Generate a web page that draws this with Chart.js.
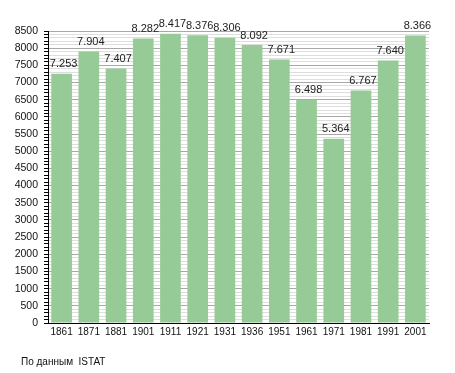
<!DOCTYPE html>
<html lang="ru">
<head>
<meta charset="UTF-8">
<title>Население</title>
<style>
    html, body { margin: 0; padding: 0; background: #ffffff; }
    #wrap { width: 455px; height: 373px; position: relative; }
</style>
</head>
<body>
<div id="wrap"><canvas id="chart" width="455" height="373"></canvas></div>
<script src="https://cdn.jsdelivr.net/npm/chart.js"></script>
<script>
    // данные переписей ISTAT
    const years = ['1861', '1871', '1881', '1901', '1911', '1921', '1931', '1936', '1951', '1961', '1971', '1981', '1991', '2001'];
    const population = [7253, 7904, 7407, 8282, 8417, 8376, 8306, 8092, 7671, 6498, 5364, 6767, 7640, 8366];
    const sourceNote = 'По данным  ISTAT';

    const fontName = '"Liberation Sans", Arial, sans-serif';

    function fmt(v) {
        // 7253 -> 7.253
        return String(v).replace(/\B(?=(\d{3})+(?!\d))/g, '.');
    }

    // подписи над столбцами
    const valueLabels = {
        id: 'valueLabels',
        afterDatasetsDraw(chart) {
            const ctx = chart.ctx;
            const meta = chart.getDatasetMeta(0);
            ctx.save();
            ctx.font = '11px ' + fontName;
            ctx.fillStyle = '#222';
            ctx.textAlign = 'center';
            ctx.textBaseline = 'bottom';
            meta.data.forEach((bar, i) => {
                ctx.fillText(fmt(population[i]), bar.x + 2, bar.y - 4);
            });
            ctx.restore();
        }
    };

    // подпись источника внизу
    const footerNote = {
        id: 'footerNote',
        afterDraw(chart) {
            const ctx = chart.ctx;
            ctx.save();
            ctx.font = '10px ' + fontName;
            ctx.fillStyle = '#111';
            ctx.textAlign = 'left';
            ctx.textBaseline = 'middle';
            ctx.fillText(sourceNote, 21, 362);
            ctx.restore();
        }
    };

    new Chart(document.getElementById('chart'), {
        type: 'bar',
        data: {
            labels: years,
            datasets: [{
                data: population,
                backgroundColor: '#96ca96',
                borderWidth: 0,
                categoryPercentage: 1,
                barPercentage: 0.76
            }]
        },
        options: {
            responsive: false,
            animation: false,
            layout: { padding: { top: 31, right: 26, bottom: 0, left: 0 } },
            plugins: {
                legend: { display: false },
                tooltip: { enabled: false }
            },
            scales: {
                x: {
                    offset: true,
                    grid: { display: false, drawTicks: false },
                    border: { color: '#000', width: 1 },
                    ticks: { color: '#111', font: { family: fontName, size: 10 }, padding: 3, maxRotation: 0, autoSkip: false },
                    afterFit: s => { s.height = 50; }
                },
                y: {
                    min: 0,
                    max: 8500,
                    border: { color: '#000', width: 1 },
                    grid: {
                        color: c => (c.tick && c.tick.value % 500 === 0) ? '#a8a8a8' : '#dedede',
                        tickColor: '#000',
                        tickLength: 4
                    },
                    ticks: {
                        stepSize: 100,
                        maxTicksLimit: 100,
                        autoSkip: false,
                        color: '#111',
                        font: { family: fontName, size: 10.5 },
                        padding: 6,
                        callback: v => (v % 500 === 0 ? String(v) : '')
                    },
                    afterFit: s => { s.width = 48; }
                }
            }
        },
        plugins: [valueLabels, footerNote]
    });
</script>
</body>
</html>
